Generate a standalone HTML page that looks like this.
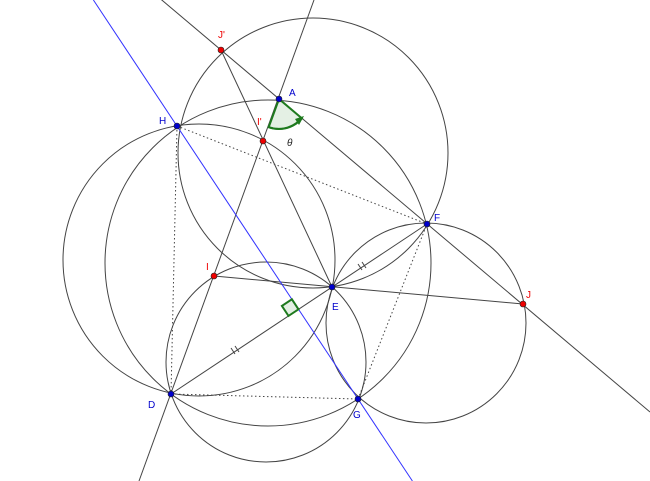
<!DOCTYPE html>
<html><head><meta charset="utf-8"><style>
html,body{margin:0;padding:0;background:#fff;}
svg{display:block;}
text{font-family:"Liberation Sans",sans-serif;font-size:10px;}
</style></head><body>
<svg width="650" height="481" viewBox="0 0 650 481" xmlns="http://www.w3.org/2000/svg">
<g fill="none" stroke="#444" stroke-width="1">
<circle cx="313" cy="153" r="135"/>
<circle cx="268" cy="263" r="163"/>
<circle cx="199" cy="260" r="136"/>
<circle cx="266" cy="362" r="100"/>
<circle cx="426" cy="323" r="100"/>
<line x1="160" y1="-1.5" x2="650" y2="412"/>
<line x1="314" y1="0" x2="139" y2="481"/>
<line x1="221" y1="50" x2="332" y2="287"/>
<line x1="214" y1="276" x2="523" y2="304"/>
<line x1="171" y1="394" x2="427" y2="224"/>
<g stroke-dasharray="1.5,2.5">
<line x1="177" y1="126" x2="427" y2="224"/>
<line x1="177" y1="126" x2="171" y2="394"/>
<line x1="171" y1="394" x2="358" y2="399"/>
<line x1="358" y1="399" x2="427" y2="224"/>
</g>
<line x1="231" y1="348" x2="235" y2="354"/>
<line x1="235" y1="346" x2="239" y2="352"/>
<line x1="358" y1="264" x2="362" y2="270"/>
<line x1="362" y1="262" x2="366" y2="268"/>
</g>
<line x1="93.4" y1="0" x2="412.4" y2="481" stroke="#3333ff" stroke-width="1"/>
<path d="M279,99 L268.7,127.2 A30,30 0 0 0 301.9,118.4 Z" fill="#e4f0e4" stroke="#1e7a1e" stroke-width="2"/>
<path d="M268.7,127.2 A30,30 0 0 0 299,121" fill="none" stroke="#1e7a1e" stroke-width="2"/>
<path d="M304,116 L295,119 L299,125 Z" fill="#1e7a1e"/>
<path d="M298.5,309.3 L288.5,315.9 L281.9,305.9 L291.9,299.3 Z" fill="#e4f0e4" stroke="#1e7a1e" stroke-width="2"/>
<text x="287" y="146" font-family="Liberation Serif" font-style="italic" font-size="12" fill="#222">θ</text>
<g stroke="#222" stroke-width="0.6">
<circle cx="221" cy="50" r="3" fill="#e00"/>
<circle cx="263" cy="141" r="3" fill="#e00"/>
<circle cx="214" cy="276" r="3" fill="#e00"/>
<circle cx="523" cy="304" r="3" fill="#e00"/>
<circle cx="279" cy="99" r="3" fill="#00c"/>
<circle cx="177" cy="126" r="3" fill="#00c"/>
<circle cx="427" cy="224" r="3" fill="#00c"/>
<circle cx="332" cy="287" r="3" fill="#00c"/>
<circle cx="171" cy="394" r="3" fill="#00c"/>
<circle cx="358" cy="399" r="3" fill="#00c"/>
</g>
<g fill="#e00">
<text x="218" y="38">J'</text>
<text x="257" y="125">I'</text>
<text x="206" y="270">I</text>
<text x="526" y="298">J</text>
</g>
<g fill="#00c">
<text x="289" y="96">A</text>
<text x="159" y="124">H</text>
<text x="434" y="221">F</text>
<text x="332" y="310">E</text>
<text x="148" y="408">D</text>
<text x="353" y="418">G</text>
</g>
</svg>
</body></html>
